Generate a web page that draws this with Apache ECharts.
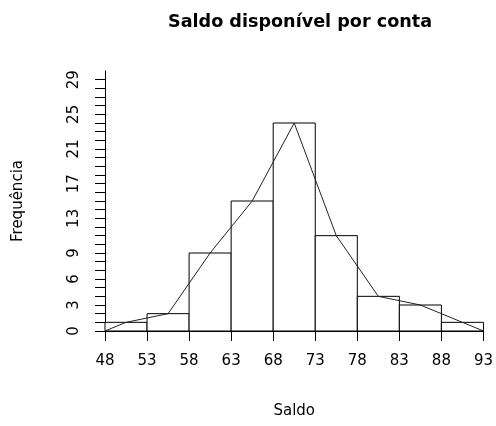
<!DOCTYPE html>
<html>
<head>
<meta charset="utf-8">
<script src="https://cdn.jsdelivr.net/npm/echarts@6/dist/echarts.min.js"></script>
<style>
  html, body { margin: 0; padding: 0; background: #fff; }
  #chart { width: 496px; height: 426px; }
</style>
</head>
<body>
<div id="chart"></div>
<script>
// Histogram bins (left edge, right edge) and counts
const binStart = [48, 53, 58, 63, 68, 73, 78, 83, 88];
const binEnd   = [53, 58, 63, 68, 73, 78, 83, 88, 93];
const counts   = [1, 2, 9, 15, 24, 11, 4, 3, 1];

// Frequency polygon through bin midpoints, closed at the outer edges
const polyX = [48, 50.5, 55.5, 60.5, 65.5, 70.5, 75.5, 80.5, 85.5, 90.5, 93];
const polyY = [0, 1, 2, 9, 15, 24, 11, 4, 3, 1, 0];

// Axis tick labels
const xTickLabels = ['48', '53', '58', '63', '68', '73', '78', '83', '88', '93'];
const yShownLabels = [0, 3, 6, 9, 13, 17, 21, 25, 29];

const FONT = 'DejaVu Sans';
const chart = echarts.init(document.getElementById('chart'), null, { renderer: 'canvas' });

const histData = binStart.map((s, i) => [s, binEnd[i], counts[i]]);
const polyData = polyX.map((x, i) => [x, polyY[i]]);

chart.setOption({
  animation: false,
  backgroundColor: '#fff',
  title: {
    text: 'Saldo disponível por conta',
    left: 295,
    textAlign: 'center',
    top: 8,
    textStyle: { fontFamily: FONT, fontSize: 17.6, fontWeight: 'bold', color: '#000' }
  },
  grid: { left: 105, right: 9, top: 71, bottom: 95 },
  xAxis: [
    {
      // data axis used by the series
      type: 'value',
      min: 48,
      max: 93,
      show: false
    },
    {
      // labelled axis with ticks at the bin edges
      type: 'category',
      data: xTickLabels,
      boundaryGap: false,
      position: 'bottom',
      name: 'Saldo',
      nameLocation: 'middle',
      nameGap: 73,
      nameTextStyle: { fontFamily: FONT, fontSize: 15, color: '#000' },
      axisLine: { show: true, lineStyle: { color: '#000', width: 1 } },
      axisTick: { show: true, length: 10, lineStyle: { color: '#000', width: 1 } },
      axisLabel: { margin: 23, fontFamily: FONT, fontSize: 15, color: '#000', interval: 0 },
      splitLine: { show: false }
    }
  ],
  yAxis: {
    type: 'value',
    min: 0,
    max: 30,
    interval: 1,
    name: 'Frequência',
    nameLocation: 'middle',
    nameGap: 79,
    nameTextStyle: { fontFamily: FONT, fontSize: 15, color: '#000' },
    axisLine: { show: true, lineStyle: { color: '#000', width: 1 } },
    axisTick: { show: true, length: 10, lineStyle: { color: '#000', width: 1 } },
    axisLabel: {
      rotate: 90,
      margin: 23,
      fontFamily: FONT,
      fontSize: 15,
      color: '#000',
      showMaxLabel: false,
      formatter: v => (yShownLabels.indexOf(v) >= 0 ? String(v) : '')
    },
    splitLine: { show: false }
  },
  series: [
    {
      type: 'custom',
      xAxisIndex: 0,
      data: histData,
      encode: { x: [0, 1], y: 2 },
      renderItem: (params, api) => {
        const p0 = api.coord([api.value(0), 0]);
        const p1 = api.coord([api.value(1), api.value(2)]);
        return {
          type: 'rect',
          shape: { x: p0[0], y: p1[1], width: p1[0] - p0[0], height: p0[1] - p1[1] },
          style: { fill: '#fff', stroke: '#000', lineWidth: 1 }
        };
      },
      z: 2
    },
    {
      type: 'line',
      xAxisIndex: 0,
      data: polyData,
      symbol: 'none',
      lineStyle: { color: '#222', width: 1 },
      z: 3
    }
  ]
});
</script>
</body>
</html>
